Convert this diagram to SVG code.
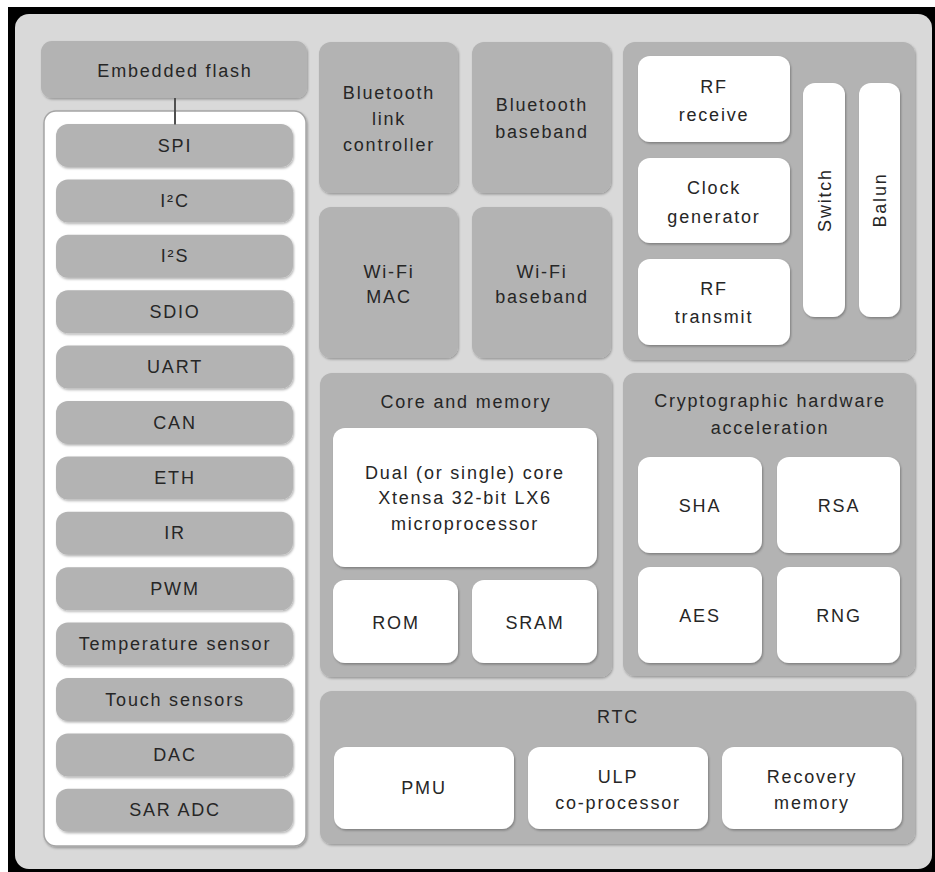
<svg xmlns="http://www.w3.org/2000/svg" width="935" height="872" viewBox="0 0 935 872">
<style>
text{font-family:"Liberation Sans",Arial,sans-serif;font-size:18px;fill:#262626;text-anchor:middle;letter-spacing:1.8px}
.g{fill:#b3b3b3}
.w{fill:#ffffff}
.sh{filter:url(#ds)}
.pan{fill:#ffffff;stroke:#a5a5a5;stroke-width:1.5}
</style>
<defs>
<filter id="ds" x="-10%" y="-10%" width="125%" height="125%">
<feDropShadow dx="1" dy="1.5" stdDeviation="1.3" flood-color="#000" flood-opacity="0.3"/>
</filter>
</defs>
<rect x="0" y="0" width="935" height="872" fill="#ffffff"/>
<rect x="8" y="7" width="927" height="865" fill="#000000"/>
<rect x="15" y="14" width="917" height="855" rx="14" fill="#d9d9d9"/>

<g id="embedded-flash"><rect class="g sh" x="41" y="41" width="266" height="57" rx="11"/><text x="175" y="77">Embedded flash</text></g>

<g id="peripherals">
<rect class="pan sh" x="44" y="111" width="262" height="735" rx="12"/>
<g id="spi"><rect class="g sh" x="56" y="124" width="237" height="43" rx="12"/><text x="175" y="151.5">SPI</text></g>
<g id="i2c"><rect class="g sh" x="56" y="179.4" width="237" height="43" rx="12"/><text x="175" y="206.9">I²C</text></g>
<g id="i2s"><rect class="g sh" x="56" y="234.8" width="237" height="43" rx="12"/><text x="175" y="262.3">I²S</text></g>
<g id="sdio"><rect class="g sh" x="56" y="290.2" width="237" height="43" rx="12"/><text x="175" y="317.7">SDIO</text></g>
<g id="uart"><rect class="g sh" x="56" y="345.6" width="237" height="43" rx="12"/><text x="175" y="373.1">UART</text></g>
<g id="can"><rect class="g sh" x="56" y="401" width="237" height="43" rx="12"/><text x="175" y="428.5">CAN</text></g>
<g id="eth"><rect class="g sh" x="56" y="456.4" width="237" height="43" rx="12"/><text x="175" y="483.9">ETH</text></g>
<g id="ir"><rect class="g sh" x="56" y="511.8" width="237" height="43" rx="12"/><text x="175" y="539.3">IR</text></g>
<g id="pwm"><rect class="g sh" x="56" y="567.2" width="237" height="43" rx="12"/><text x="175" y="594.7">PWM</text></g>
<g id="temp"><rect class="g sh" x="56" y="622.6" width="237" height="43" rx="12"/><text x="175" y="650.1">Temperature sensor</text></g>
<g id="touch"><rect class="g sh" x="56" y="678" width="237" height="43" rx="12"/><text x="175" y="705.5">Touch sensors</text></g>
<g id="dac"><rect class="g sh" x="56" y="733.4" width="237" height="43" rx="12"/><text x="175" y="760.9">DAC</text></g>
<g id="saradc"><rect class="g sh" x="56" y="788.8" width="237" height="43" rx="12"/><text x="175" y="816.3">SAR ADC</text></g>
</g>

<g id="connectors"><line x1="175" y1="98" x2="175" y2="124.5" stroke="#505050" stroke-width="2"/></g>

<g id="bt-link"><rect class="g sh" x="319" y="42" width="139" height="151" rx="12"/><text x="389" y="99">Bluetooth</text><text x="389" y="125">link</text><text x="389" y="151">controller</text></g>
<g id="bt-baseband"><rect class="g sh" x="472" y="42" width="139" height="151" rx="12"/><text x="542" y="111">Bluetooth</text><text x="542" y="138">baseband</text></g>
<g id="wifi-mac"><rect class="g sh" x="319" y="207" width="139" height="151" rx="12"/><text x="389" y="278">Wi-Fi</text><text x="389" y="303">MAC</text></g>
<g id="wifi-baseband"><rect class="g sh" x="472" y="207" width="139" height="151" rx="12"/><text x="542" y="278">Wi-Fi</text><text x="542" y="303">baseband</text></g>

<g id="rf">
<rect class="g sh" x="623" y="42" width="292" height="318" rx="12"/>
<g id="rf-receive"><rect class="w sh" x="638" y="56" width="152" height="86" rx="12"/><text x="714" y="93">RF</text><text x="714" y="121">receive</text></g>
<g id="clock"><rect class="w sh" x="638" y="158" width="152" height="85" rx="12"/><text x="714" y="194">Clock</text><text x="714" y="223">generator</text></g>
<g id="rf-transmit"><rect class="w sh" x="638" y="259" width="152" height="86" rx="12"/><text x="714" y="295">RF</text><text x="714" y="323">transmit</text></g>
<g id="switch"><rect class="w sh" x="803" y="83" width="42" height="234" rx="12"/><text transform="translate(830.5 200) rotate(-90)">Switch</text></g>
<g id="balun"><rect class="w sh" x="859" y="83" width="41" height="234" rx="12"/><text transform="translate(886 200) rotate(-90)">Balun</text></g>
</g>

<g id="core">
<rect class="g sh" x="320" y="373" width="292" height="304" rx="12"/>
<text x="466" y="408">Core and memory</text>
<g id="cpu"><rect class="w sh" x="333" y="428" width="264" height="139" rx="12"/><text x="465" y="479">Dual (or single) core</text><text x="465" y="504">Xtensa 32-bit LX6</text><text x="465" y="530">microprocessor</text></g>
<g id="rom"><rect class="w sh" x="333" y="580" width="125" height="83" rx="12"/><text x="396" y="629">ROM</text></g>
<g id="sram"><rect class="w sh" x="472" y="580" width="125" height="83" rx="12"/><text x="535" y="629">SRAM</text></g>
</g>

<g id="crypto">
<rect class="g sh" x="623" y="373" width="292" height="303" rx="12"/>
<text x="770" y="407">Cryptographic hardware</text><text x="770" y="434">acceleration</text>
<g id="sha"><rect class="w sh" x="638" y="457" width="124" height="96" rx="12"/><text x="700" y="512">SHA</text></g>
<g id="rsa"><rect class="w sh" x="777" y="457" width="123" height="96" rx="12"/><text x="839" y="512">RSA</text></g>
<g id="aes"><rect class="w sh" x="638" y="567" width="124" height="96" rx="12"/><text x="700" y="622">AES</text></g>
<g id="rng"><rect class="w sh" x="777" y="567" width="123" height="96" rx="12"/><text x="839" y="622">RNG</text></g>
</g>

<g id="rtc">
<rect class="g sh" x="320" y="691" width="595" height="153" rx="12"/>
<text x="618" y="723">RTC</text>
<g id="pmu"><rect class="w sh" x="334" y="747" width="180" height="82" rx="12"/><text x="424" y="794">PMU</text></g>
<g id="ulp"><rect class="w sh" x="528" y="747" width="180" height="82" rx="12"/><text x="618" y="783">ULP</text><text x="618" y="809">co-processor</text></g>
<g id="recovery"><rect class="w sh" x="722" y="747" width="180" height="82" rx="12"/><text x="812" y="783">Recovery</text><text x="812" y="809">memory</text></g>
</g>
</svg>
